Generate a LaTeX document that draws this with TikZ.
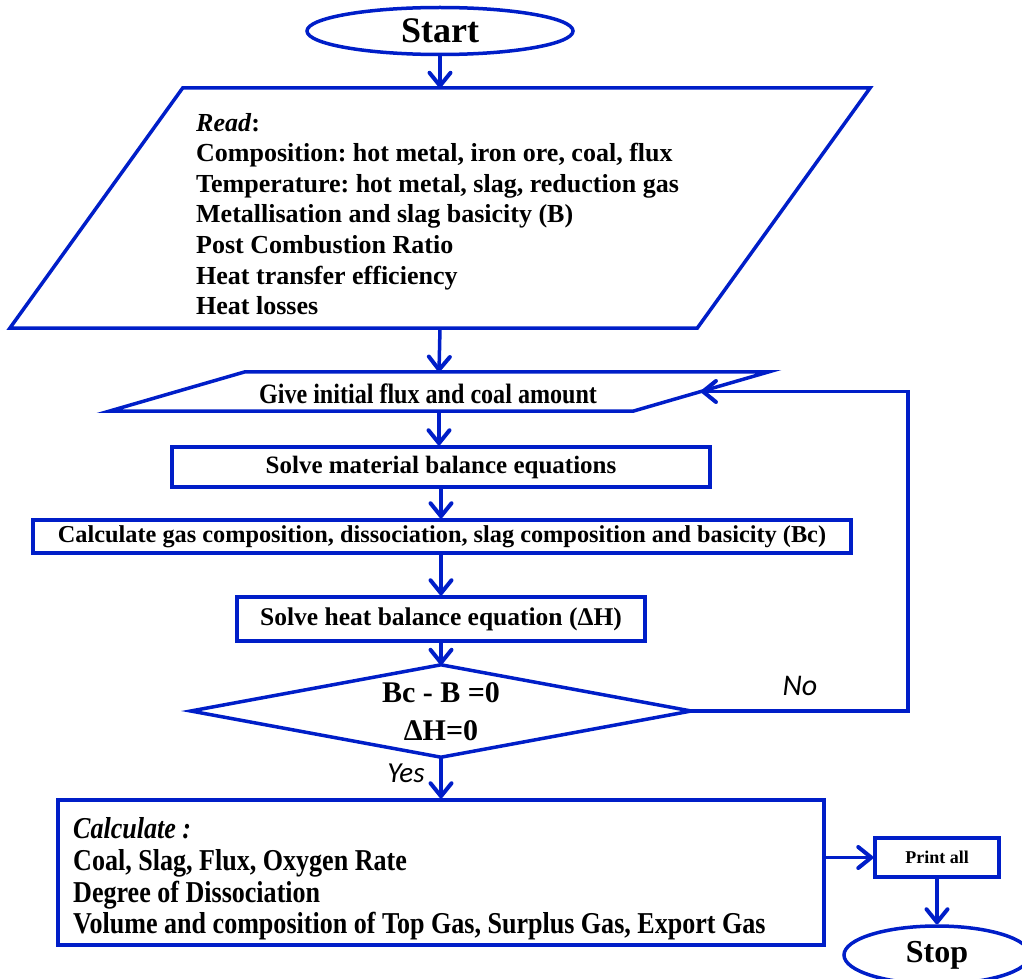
\documentclass[tikz,border=0pt]{standalone}
\usepackage{fontspec}
\setmainfont{Liberation Serif}
\newfontfamily\condf[FakeStretch=0.86]{Liberation Serif}
\newfontfamily\calib{Carlito}
\usetikzlibrary{shapes.geometric,arrows.meta,calc}
\definecolor{fblue}{RGB}{0,30,200}
\begin{document}
\begin{tikzpicture}[x=1pt,y=-1pt,
  shp/.style={draw=fblue,line width=3.5pt,inner sep=0pt,font=\bfseries},
  ghost/.style={draw=none,inner sep=0pt,rectangle},
  txt/.style={inner sep=0pt,font=\bfseries},
  arr/.style={draw=fblue,line width=3.5pt,-{Straight Barb[length=13pt,width=21pt,round,line width=4pt]}},
  lnk/.style={draw=fblue,line width=3.5pt,line join=miter}]
\useasboundingbox (0,0) rectangle (1022,979);
% Start
\node[shp,ellipse,minimum width=266,minimum height=47,font=\bfseries\fontsize{36}{40}\selectfont] (start) at (440,31) {Start};
% Read parallelogram
\node[ghost,minimum width=687,minimum height=240] (read) at (440,208) {};
\draw[lnk] ([xshift=86.5]read.north west) -- ([xshift=86.5]read.north east) -- ([xshift=-86.5]read.south east) -- ([xshift=-86.5]read.south west) -- cycle;
\node[txt,anchor=west,align=left,font=\bfseries\fontsize{26}{30.6}\selectfont] (readtxt) at (196,214) {\textit{Read}:\\
Composition:\ hot metal, iron ore, coal, flux\\
Temperature:\ hot metal, slag, reduction gas\\
Metallisation and slag basicity (B)\\
Post Combustion Ratio\\
Heat transfer efficiency\\
Heat losses};
% Give parallelogram
\node[ghost,minimum width=523.5,minimum height=39] (give) at (439,391.5) {};
\draw[lnk] ([xshift=68]give.north west) -- ([xshift=68]give.north east) -- ([xshift=-68]give.south east) -- ([xshift=-68]give.south west) -- cycle;
\node[txt,font=\condf\bfseries\fontsize{28}{30}\selectfont] (givetxt) at (428,394) {Give initial flux and coal amount};
% Rectangles
\node[shp,rectangle,minimum width=538,minimum height=40,font=\bfseries\fontsize{25}{30}\selectfont] (mat) at (441,467) {Solve material balance equations};
\node[shp,rectangle,minimum width=818,minimum height=33,font=\bfseries\fontsize{24.3}{30}\selectfont] (gas) at (442,536.5) {Calculate gas composition, dissociation, slag composition and basicity (Bc)};
\node[shp,rectangle,minimum width=408,minimum height=44,font=\bfseries\fontsize{25.5}{30}\selectfont] (heat) at (441,619) {Solve heat balance equation (ΔH)};
% Diamond
\node[ghost,minimum width=500,minimum height=92] (dia) at (441,711) {};
\draw[lnk] (dia.north) -- (dia.east) -- (dia.south) -- (dia.west) -- cycle;
\node[txt,align=center,font=\bfseries\fontsize{30}{38}\selectfont] (diatxt) at (441,712) {Bc - B =0\\ ΔH=0};
% Bottom box
\node[shp,rectangle,minimum width=766,minimum height=145] (res) at (441,872.5) {};
\node[txt,anchor=west,align=left,font=\condf\bfseries\fontsize{30.3}{31.7}\selectfont] (restxt) at (73,879) {\textit{Calculate :}\\
Coal, Slag, Flux, Oxygen Rate\\
Degree of Dissociation\\
Volume and composition of Top Gas, Surplus Gas, Export Gas};
% Print and Stop
\node[shp,rectangle,minimum width=124,minimum height=39,font=\bfseries\fontsize{18}{20}\selectfont] (print) at (937,857.5) {Print all};
\node[shp,ellipse,minimum width=186,minimum height=58,font=\bfseries\fontsize{32}{36}\selectfont] (stop) at (937,955) {Stop};
% Labels
\node[inner sep=0pt,font=\calib\itshape\fontsize{30}{32}\selectfont] (no) at (800,686) {No};
\node[inner sep=0pt,font=\calib\itshape\fontsize{29}{32}\selectfont] (yes) at (406,773) {Yes};
% Connectors
\draw[arr] (start.south) -- (read.north);
\draw[arr] (read.south) -- (give.north);
\draw[arr] (give.south) -- (mat.north -| give.south);
\draw[arr] (mat.south) -- (gas.north -| mat.south);
\draw[arr] (gas.south -| heat.north) -- (heat.north);
\draw[arr] (heat.south) -- (dia.north);
\draw[arr] (dia.south) -- (res.north);
\coordinate (loopc) at (908,391.5);
\draw[arr] (dia.east) -| (loopc) -- (give.east);
\draw[arr] (print.west -| res.east) -- (print.west);
\draw[arr] (print.south) -- (stop.north);
\end{tikzpicture}
\end{document}
